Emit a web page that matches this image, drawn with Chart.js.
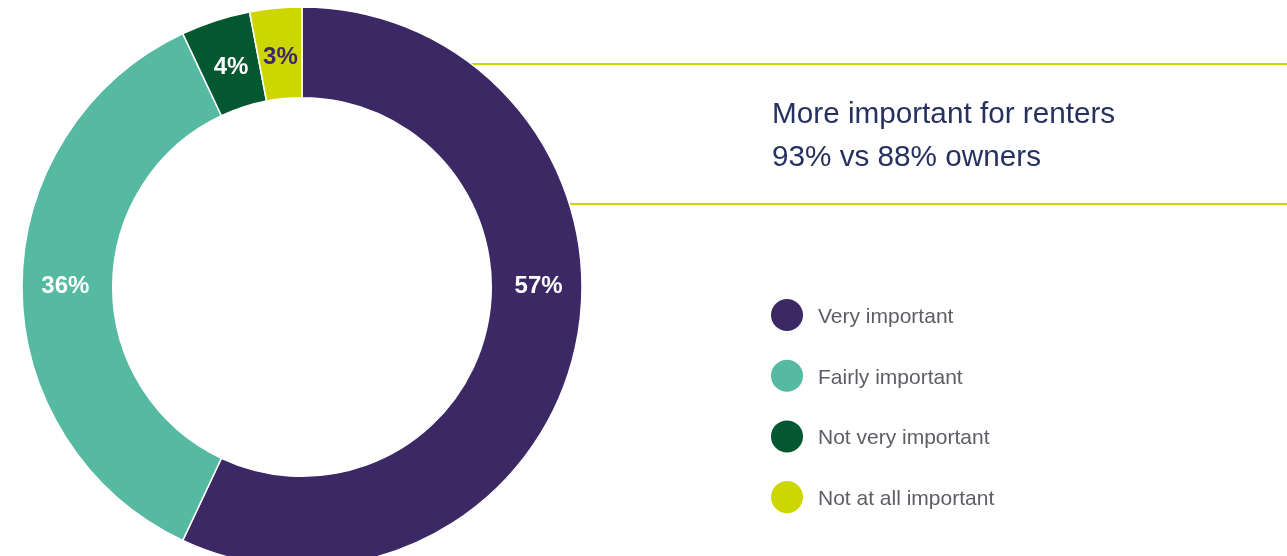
<!DOCTYPE html>
<html>
<head>
<meta charset="utf-8">
<script src="https://cdn.jsdelivr.net/npm/chart.js@4.4.1/dist/chart.umd.min.js"></script>
<style>
  html, body { margin: 0; padding: 0; background: #fff; overflow: hidden; }
  #wrap { position: relative; width: 1287px; height: 556px; }
</style>
</head>
<body>
<div id="wrap"><canvas id="chart"></canvas></div>
<script>
// chart data
const categories = ['Very important', 'Fairly important', 'Not very important', 'Not at all important'];
const shares = [57, 36, 4, 3];
const sliceColors = ['#3c2865', '#56b9a1', '#03582f', '#ced600'];
const labelColors = ['#ffffff', '#ffffff', '#ffffff', '#3c2865'];
const calloutLines = ['More important for renters', '93% vs 88% owners'];

const FONT = '"Liberation Sans", Arial, Helvetica, sans-serif';

// yellow rules (start at the ring's outer edge) + callout text
const calloutPlugin = {
  id: 'callout',
  beforeDatasetsDraw(chart) {
    const arc = chart.getDatasetMeta(0).data[0];
    if (!arc) return;
    const ctx = chart.ctx;
    ctx.save();
    ctx.strokeStyle = '#ced600';
    ctx.lineWidth = 2;
    [64, 204].forEach(y => {
      const dy = y - arc.y;
      const x0 = arc.x + Math.sqrt(Math.max(arc.outerRadius * arc.outerRadius - dy * dy, 0)) - 2;
      ctx.beginPath();
      ctx.moveTo(x0, y);
      ctx.lineTo(1287, y);
      ctx.stroke();
    });
    ctx.restore();
  },
  afterDraw(chart) {
    const ctx = chart.ctx;
    ctx.save();
    ctx.fillStyle = '#27315f';
    ctx.font = '29.7px ' + FONT;
    ctx.textBaseline = 'alphabetic';
    ctx.fillText(calloutLines[0], 772, 123);
    ctx.fillText(calloutLines[1], 772, 166);
    ctx.restore();
  }
};

// percentage labels on the ring; big slices get their label on the horizontal
const sliceLabels = {
  id: 'sliceLabels',
  afterDatasetsDraw(chart) {
    const ctx = chart.ctx;
    const meta = chart.getDatasetMeta(0);
    ctx.save();
    ctx.font = 'bold 24px ' + FONT;
    ctx.textAlign = 'center';
    ctx.textBaseline = 'middle';
    meta.data.forEach((arc, i) => {
      const p = arc.getProps(['x', 'y', 'startAngle', 'endAngle', 'innerRadius', 'outerRadius']);
      let r = (p.innerRadius + p.outerRadius) / 2;
      let a = (p.startAngle + p.endAngle) / 2;
      if (p.startAngle <= 0 && p.endAngle >= 0) { a = 0; r += 2; }
      else if (p.startAngle <= Math.PI && p.endAngle >= Math.PI) { a = Math.PI; r += 2; }
      else r -= 5;
      ctx.fillStyle = labelColors[i];
      ctx.fillText(shares[i] + '%', p.x + Math.cos(a) * r, p.y + Math.sin(a) * r - 1);
    });
    ctx.restore();
  }
};

// legend with round markers
const dotLegend = {
  id: 'dotLegend',
  afterDraw(chart) {
    const ctx = chart.ctx;
    ctx.save();
    ctx.font = '21px ' + FONT;
    ctx.textBaseline = 'alphabetic';
    chart.data.labels.forEach((lab, i) => {
      const y = 315 + i * 60.7;
      ctx.fillStyle = sliceColors[i];
      ctx.beginPath();
      ctx.arc(787, y, 16, 0, Math.PI * 2);
      ctx.fill();
      ctx.fillStyle = '#5d5d66';
      ctx.fillText(lab, 818, y + 8);
    });
    ctx.restore();
  }
};

new Chart(document.getElementById('chart'), {
  type: 'doughnut',
  data: {
    labels: categories,
    datasets: [{
      data: shares,
      backgroundColor: sliceColors,
      borderColor: '#ffffff',
      borderWidth: 1.5,
    }],
  },
  options: {
    responsive: true,
    maintainAspectRatio: false,
    animation: false,
    radius: 280,
    cutout: '67.6%',
    layout: { padding: { left: 0, right: 683, top: 18, bottom: 0 } },
    plugins: {
      legend: { display: false },
      tooltip: { enabled: false },
    },
  },
  plugins: [calloutPlugin, sliceLabels, dotLegend],
});
</script>
</body>
</html>
